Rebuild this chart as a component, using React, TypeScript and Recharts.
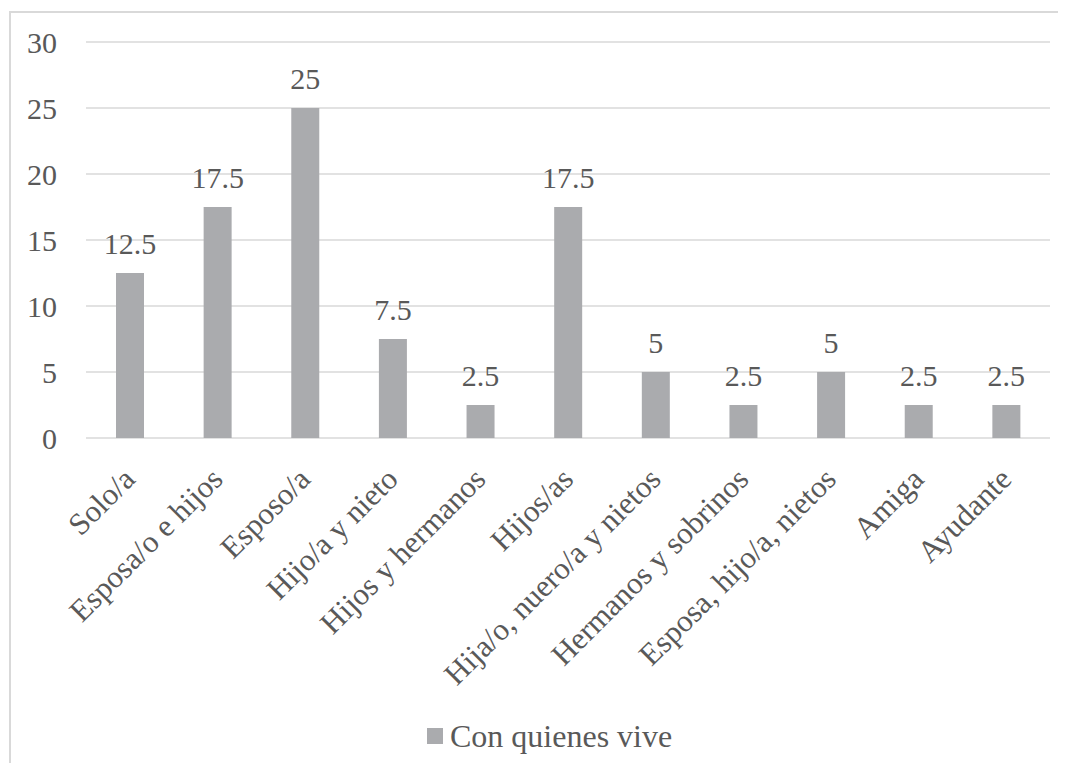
import React from 'react';
import { BarChart, Bar, XAxis, YAxis, CartesianGrid, Legend, LabelList } from 'recharts';

// --- Data ---
const categories = [
  'Solo/a',
  'Esposa/o e hijos',
  'Esposo/a',
  'Hijo/a y nieto',
  'Hijos y hermanos',
  'Hijos/as',
  'Hija/o, nuero/a y nietos',
  'Hermanos y sobrinos',
  'Esposa, hijo/a, nietos',
  'Amiga',
  'Ayudante',
];
const values = [12.5, 17.5, 25, 7.5, 2.5, 17.5, 5, 2.5, 5, 2.5, 2.5];
const yTicks = [0, 5, 10, 15, 20, 25, 30];
const seriesName = 'Con quienes vive';

const data = categories.map((name, i) => ({ name, value: values[i] }));

const FONT = 'Liberation Serif';
const TEXT = '#595959';
const BAR = '#aaabae';
const GRID = '#d9d9d9';

const AngledTick = (props: any) => {
  const { x, y, payload } = props;
  const ty = y + 34;
  return (
    <text
      x={x}
      y={ty}
      dy="0.32em"
      textAnchor="end"
      fill={TEXT}
      fontSize={31}
      style={{ fontFamily: FONT }}
      transform={`rotate(-45, ${x}, ${ty})`}
    >
      {payload.value}
    </text>
  );
};

const LegendBox = () => (
  <div style={{ display: 'flex', alignItems: 'center', fontFamily: FONT, fontSize: 32, color: TEXT, lineHeight: '32px' }}>
    <span style={{ width: 16, height: 16, background: BAR, display: 'inline-block', marginRight: 7 }} />
    <span>{seriesName}</span>
  </div>
);

export default function App() {
  return (
    <div style={{ position: 'relative', width: 1050, height: 755, overflow: 'hidden', background: '#fff', fontFamily: FONT }}>
      <div
        style={{
          position: 'absolute',
          left: 1,
          top: 3,
          width: 1100,
          height: 800,
          border: `2px solid ${GRID}`,
          boxSizing: 'border-box',
        }}
      />
      <div style={{ position: 'absolute', left: 0, top: 0 }}>
        <BarChart
          width={1050}
          height={755}
          data={data}
          margin={{ top: 34, right: 8, left: 0, bottom: 0 }}
          barCategoryGap={0}
          style={{ fontFamily: FONT }}
        >
          <CartesianGrid vertical={false} stroke={GRID} strokeWidth={1.5} />
          <XAxis
            dataKey="name"
            interval={0}
            axisLine={false}
            tickLine={false}
            tickSize={0}
            height={325}
            tick={<AngledTick />}
          />
          <YAxis
            domain={[0, 30]}
            ticks={yTicks}
            width={78}
            axisLine={false}
            tickLine={false}
            tickSize={0}
            tickMargin={29}
            tick={{ fill: TEXT, fontSize: 30, style: { fontFamily: FONT } }}
          />
          <Legend
            layout="horizontal"
            verticalAlign="middle"
            align="center"
            content={<LegendBox />}
            wrapperStyle={{ top: 712, left: 419, width: 'auto' }}
          />
          <Bar dataKey="value" name={seriesName} fill={BAR} barSize={28} isAnimationActive={false}>
            <LabelList
              dataKey="value"
              position="top"
              offset={19}
              fill={TEXT}
              fontSize={30}
              style={{ fontFamily: FONT }}
            />
          </Bar>
        </BarChart>
      </div>
    </div>
  );
}
